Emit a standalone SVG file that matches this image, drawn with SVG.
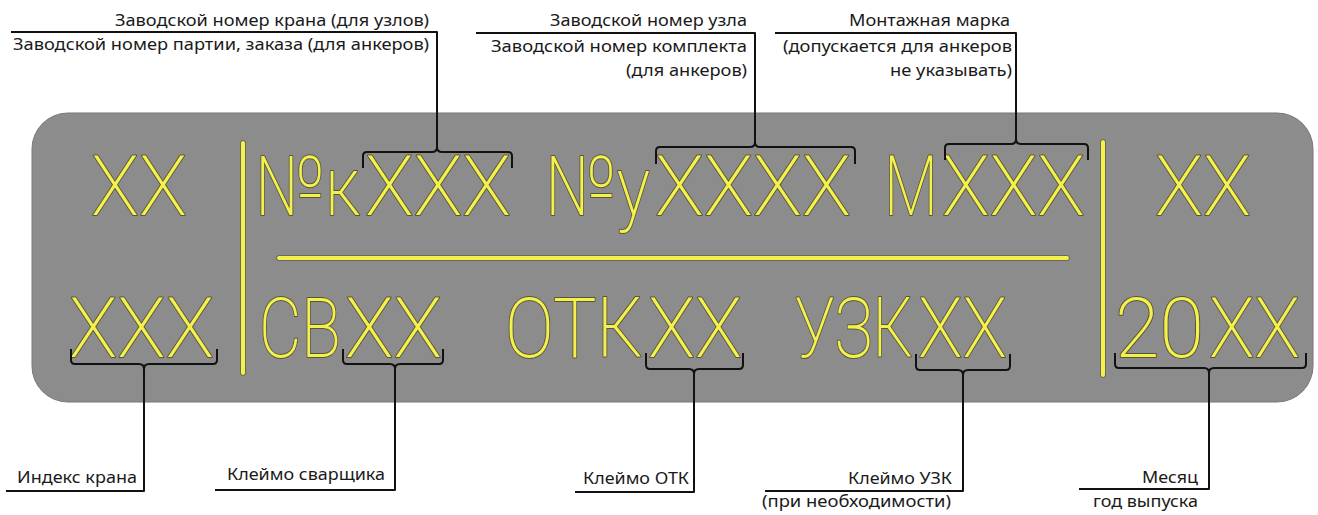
<svg xmlns="http://www.w3.org/2000/svg" width="1318" height="515" viewBox="0 0 1318 515">
<style>
.plate{fill:#8c8c8c;stroke:#777;stroke-width:1}
.y{font-family:Roboto,"DejaVu Sans",sans-serif;font-weight:200;font-size:83px;fill:#f4f04c;stroke:#56563e;stroke-width:2;paint-order:stroke;stroke-linejoin:round}
.yl{stroke:#f4f04c;stroke-width:4;stroke-linecap:round;fill:none}
.ylo{stroke:#5f5f44;stroke-width:5.5;stroke-linecap:round;fill:none}
.lbl{font-family:"Noto Sans","Liberation Sans",sans-serif;font-size:17px;fill:#1a1a1a}
.c{fill:none;stroke:#111;stroke-width:2;stroke-linejoin:round}
</style>
<rect class="plate" x="32" y="113" width="1281" height="289" rx="36" ry="36"/>
<g id="plate-lines">
<path class="ylo" d="M243 143V373M1103 142V375M279 258H1067"/>
<path class="yl" d="M243 143V373M1103 142V375M279 258H1067"/>
</g>
<g id="n-top-xx"><text class="y" x="91" y="215" textLength="96" lengthAdjust="spacingAndGlyphs">XX</text></g>
<g id="n-crane-no"><text class="y" y="215"><tspan x="255" textLength="105" lengthAdjust="spacingAndGlyphs">№к</tspan><tspan x="365" textLength="146" lengthAdjust="spacingAndGlyphs">XXX</tspan></text></g>
<g id="n-unit-no"><text class="y" y="215"><tspan x="545" textLength="105" lengthAdjust="spacingAndGlyphs">№у</tspan><tspan x="655" textLength="196" lengthAdjust="spacingAndGlyphs">XXXX</tspan></text></g>
<g id="n-mark"><text class="y" y="215"><tspan x="884" textLength="54" lengthAdjust="spacingAndGlyphs">М</tspan><tspan x="942" textLength="143" lengthAdjust="spacingAndGlyphs">XXX</tspan></text></g>
<g id="n-top-right-xx"><text class="y" x="1155" y="215" textLength="96" lengthAdjust="spacingAndGlyphs">XX</text></g>
<g id="n-index"><text class="y" x="69" y="357" textLength="145" lengthAdjust="spacingAndGlyphs">XXX</text></g>
<g id="n-welder"><text class="y" y="357"><tspan x="259" textLength="82" lengthAdjust="spacingAndGlyphs">СВ</tspan><tspan x="345" textLength="97" lengthAdjust="spacingAndGlyphs">XX</tspan></text></g>
<g id="n-otk"><text class="y" y="357"><tspan x="505" textLength="138" lengthAdjust="spacingAndGlyphs">ОТК</tspan><tspan x="648" textLength="94" lengthAdjust="spacingAndGlyphs">XX</tspan></text></g>
<g id="n-uzk"><text class="y" y="357"><tspan x="795" textLength="118" lengthAdjust="spacingAndGlyphs">УЗК</tspan><tspan x="918" textLength="89" lengthAdjust="spacingAndGlyphs">XX</tspan></text></g>
<g id="n-date"><text class="y" y="357"><tspan x="1115" textLength="89" lengthAdjust="spacingAndGlyphs">20</tspan><tspan x="1209" textLength="91" lengthAdjust="spacingAndGlyphs">XX</tspan></text></g>
<g id="labels">
<text class="lbl" x="115" y="26" textLength="314" lengthAdjust="spacingAndGlyphs">Заводской номер крана (для узлов)</text>
<text class="lbl" x="13" y="50" textLength="416" lengthAdjust="spacingAndGlyphs">Заводской номер партии, заказа (для анкеров)</text>
<text class="lbl" x="550" y="26" textLength="197" lengthAdjust="spacingAndGlyphs">Заводской номер узла</text>
<text class="lbl" x="491" y="52" textLength="256" lengthAdjust="spacingAndGlyphs">Заводской номер комплекта</text>
<text class="lbl" x="626" y="76" textLength="121" lengthAdjust="spacingAndGlyphs">(для анкеров)</text>
<text class="lbl" x="849" y="26" textLength="161" lengthAdjust="spacingAndGlyphs">Монтажная марка</text>
<text class="lbl" x="783" y="52" textLength="229" lengthAdjust="spacingAndGlyphs">(допускается для анкеров</text>
<text class="lbl" x="890" y="76" textLength="122" lengthAdjust="spacingAndGlyphs">не указывать)</text>
<text class="lbl" x="17" y="483" textLength="120" lengthAdjust="spacingAndGlyphs">Индекс крана</text>
<text class="lbl" x="227" y="480" textLength="158" lengthAdjust="spacingAndGlyphs">Клеймо сварщика</text>
<text class="lbl" x="583" y="484" textLength="106" lengthAdjust="spacingAndGlyphs">Клеймо ОТК</text>
<text class="lbl" x="848" y="484" textLength="104" lengthAdjust="spacingAndGlyphs">Клеймо УЗК</text>
<text class="lbl" x="762" y="507" textLength="189" lengthAdjust="spacingAndGlyphs">(при необходимости)</text>
<text class="lbl" x="1142" y="483" textLength="56" lengthAdjust="spacingAndGlyphs">Месяц</text>
<text class="lbl" x="1093" y="507" textLength="105" lengthAdjust="spacingAndGlyphs">год выпуска</text>
</g>
<g id="connectors">
<path class="c" d="M363 168V156Q363 152 367 152H432Q437 152 437 147Q437 152 442 152H508Q512 152 512 156V168M437 147V32H11"/>
<path class="c" d="M656 164V151Q656 147 660 147H750Q755 147 755 142Q755 147 760 147H851Q855 147 855 151V164M755 142V33H476"/>
<path class="c" d="M945 160V148Q945 144 949 144H1011Q1016 144 1016 139Q1016 144 1021 144H1084Q1088 144 1088 148V160M1016 139V33H775"/>
<path class="c" d="M71 349V360Q71 364 75 364H139Q144 364 144 369Q144 364 149 364H213Q217 364 217 360V349M144 369V491H6"/>
<path class="c" d="M343 349V360Q343 364 347 364H390Q395 364 395 369Q395 364 400 364H439Q443 364 443 360V349M395 369V490H215"/>
<path class="c" d="M646 353V365Q646 369 650 369H689Q694 369 694 374Q694 369 699 369H739Q743 369 743 365V353M694 374V492H575"/>
<path class="c" d="M916 354V366Q916 370 920 370H958Q963 370 963 375Q963 370 968 370H1006Q1010 370 1010 366V354M963 375V491H765"/>
<path class="c" d="M1115 353V364Q1115 368 1119 368H1204Q1209 368 1209 373Q1209 368 1214 368H1302Q1306 368 1306 364V353M1209 373V489H1079"/>
</g>
</svg>
